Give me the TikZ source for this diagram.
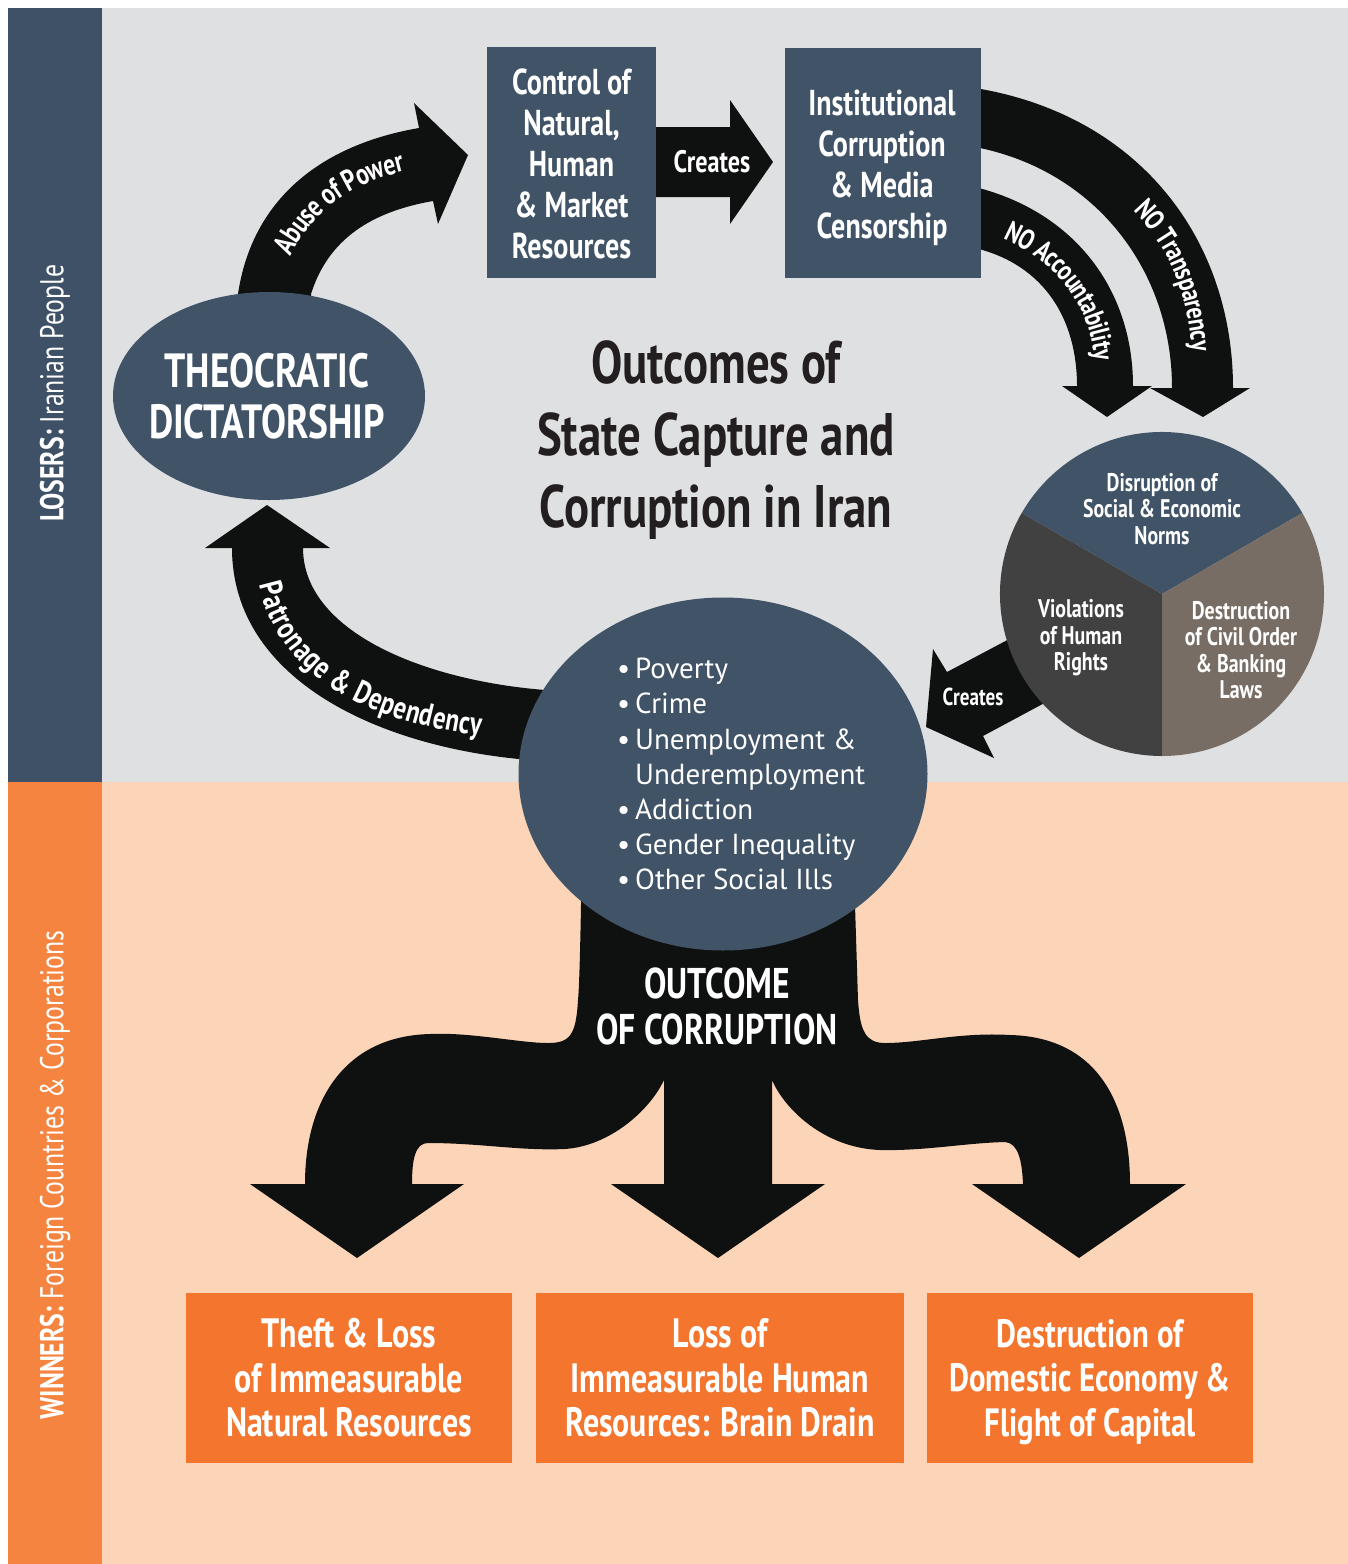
\documentclass[tikz,border=0pt]{standalone}
\usepackage{fontspec}
\setmainfont{PT Sans}
\newfontfamily\cond[FakeStretch=0.78]{PT Sans}
\usetikzlibrary{shapes.geometric,decorations.text}
\definecolor{slate}{HTML}{405367}
\definecolor{bandslate}{HTML}{3E5166}
\definecolor{graybg}{HTML}{DFE0E2}
\definecolor{peach}{HTML}{FCD4B7}
\definecolor{bandorange}{HTML}{F4843F}
\definecolor{boxorange}{HTML}{F3752E}
\definecolor{arrowblack}{HTML}{0F1110}
\definecolor{pieleft}{HTML}{414141}
\definecolor{pieright}{HTML}{776D64}
\definecolor{titlecol}{HTML}{231F20}
\newcommand\abusefont{\cond\bfseries\fontsize{30}{30}\selectfont\color{white}}
\newcommand\nofont{\cond\bfseries\fontsize{28.5}{28.5}\selectfont\color{white}}
\newcommand\patfont{\cond\bfseries\fontsize{32}{32}\selectfont\color{white}}
\newcommand\bul{\makebox[18pt][l]{\textbullet}}
\tikzset{
  bigarrow/.style={fill=arrowblack},
  slatebox/.style={rectangle, fill=slate, inner sep=0},
  boxtext/.style={text=white, inner sep=0, align=center,
    font=\cond\bfseries\fontsize{36}{41}\selectfont},
  outbox/.style={rectangle, fill=boxorange, inner sep=0, minimum height=170pt},
  outtext/.style={text=white, inner sep=0, align=center,
    font=\cond\bfseries\fontsize{41}{44.5}\selectfont},
  pietext/.style={text=white, align=center, inner sep=0,
    font=\cond\bfseries\fontsize{25.5}{26.5}\selectfont},
  sidelabel/.style={rotate=90, text=white, inner sep=0, font=\cond\fontsize{33}{33}\selectfont},
}
\begin{document}
\begin{tikzpicture}[x=1pt,y=-1pt]
\useasboundingbox (0,0) rectangle (1348,1564);
% backgrounds
\fill[white] (0,0) rectangle (1348,1564);
\fill[bandslate] (8,8) rectangle (102,782);
\fill[bandorange] (8,782) rectangle (102,1564);
\fill[graybg] (102,8) rectangle (1348,782);
\fill[peach] (102,782) rectangle (1348,1564);

% side labels
\node[sidelabel] (losers) at (55,393) {\bfseries LOSERS:\mdseries\ Iranian People};
\node[sidelabel] (winners) at (55,1175) {\bfseries WINNERS:\mdseries\ Foreign Countries \& Corporations};

% Abuse of Power arrow
\fill[bigarrow] (238,310) -- (238,294) .. controls (252,200) and (320,145) .. (419,128)
  -- (414,103) -- (468,155) -- (438,224) -- (433,201)
  .. controls (370,212) and (328,240) .. (311,294) -- (311,310) -- cycle;
\path[decorate, decoration={text along path, text align=center, raise=-10pt,
  text={|\abusefont|Abuse of Power}}] (276,266) .. controls (298,205) and (350,170) .. (418,158);

% Creates arrow (top)
\fill[bigarrow] (650,127) -- (730,127) -- (730,100) -- (773,162) -- (730,224) -- (730,197) -- (650,197) -- cycle;

% NO Transparency arrow
\fill[bigarrow] (975,88) .. controls (1140,115) and (1233,240) .. (1233,388)
  -- (1250,388) -- (1203,417) -- (1150,388) -- (1172,388)
  .. controls (1172,270) and (1095,170) .. (975,147) -- cycle;
\path[decorate, decoration={text along path, text align=center, raise=-10pt,
  text={|\nofont|NO Transparency}}] (1120,186) .. controls (1175,228) and (1203,292) .. (1203,378);

% NO Accountability arrow
\fill[bigarrow] (975,187) .. controls (1075,212) and (1133,290) .. (1133,386)
  -- (1152,386) -- (1107,417) -- (1062,386) -- (1077,386)
  .. controls (1077,320) and (1045,265) .. (975,248) -- cycle;
\path[decorate, decoration={text along path, text align=center, raise=-10pt,
  text={|\nofont|NO Accountability}}] (994,224) .. controls (1060,248) and (1105,300) .. (1105,374);

% Patronage arrow
\fill[bigarrow] (303,548) -- (330,548) -- (267,505) -- (205,548) -- (232,548)
  .. controls (232,680) and (380,748) .. (530,760) -- (560,760) -- (560,688) -- (545,690)
  .. controls (420,680) and (303,630) .. (303,548) -- cycle;
\path[decorate, decoration={text along path, text align=center, raise=-11pt,
  text={|\patfont|Patronage {\&} Dependency}}] (266,548) .. controls (268,662) and (365,717) .. (516,728);

% Creates arrow (lower)
\fill[bigarrow] (1030,628) -- (947,672) -- (933,649) -- (926,727) -- (994,758) -- (983,736) -- (1065,692) -- cycle;

% tree
\fill[bigarrow] (581,850) -- (581,905) .. controls (580,960) and (579,990) .. (578,1000)
  .. controls (576,1035) and (570,1043) .. (548,1043)
  .. controls (520,1043) and (470,1032) .. (430,1034)
  .. controls (345,1036) and (305,1100) .. (305,1184)
  -- (250,1184) -- (357,1258) -- (464,1184) -- (412,1184)
  .. controls (412,1160) and (415,1143) .. (428,1143)
  .. controls (480,1143) and (520,1151) .. (565,1149)
  .. controls (610,1146) and (650,1110) .. (664,1080)
  -- (664,1184) -- (611,1184) -- (718,1258) -- (825,1184) -- (772,1184) -- (772,1080)
  .. controls (785,1110) and (825,1148) .. (880,1150)
  .. controls (925,1151) and (965,1143) .. (1005,1142)
  .. controls (1018,1143) and (1022,1160) .. (1023,1184)
  -- (972,1184) -- (1079,1258) -- (1186,1184) -- (1130,1184)
  .. controls (1130,1100) and (1095,1037) .. (1010,1035)
  .. controls (960,1032) and (920,1043) .. (885,1043)
  .. controls (865,1043) and (860,1030) .. (858,1000)
  -- (855,905) -- (855,850) -- cycle;

% pie
\coordinate (pc) at (1162,594);
\fill[slate] (pc) -- ++(-30:162) arc[start angle=-30, end angle=-150, radius=162] -- cycle;
\fill[pieleft] (pc) -- ++(-150:162) arc[start angle=-150, end angle=-270, radius=162] -- cycle;
\fill[pieright] (pc) -- ++(90:162) arc[start angle=90, end angle=-30, radius=162] -- cycle;
\node[pietext] (disrupt) at (1162,509) {Disruption of\\Social \& Economic\\Norms};
\node[pietext] (viol) at (1081,638) {Violations\\of Human\\Rights};
\node[pietext] (destr) at (1241,650) {Destruction\\of Civil Order\\\& Banking\\Laws};

% boxes
\node[slatebox, minimum width=169pt, minimum height=231pt] (control) at (571.5,162.5) {};
\node[boxtext] (controltext) at (571.5,164) {Control of\\Natural,\\Human\\\& Market\\Resources};
\node[slatebox, minimum width=196pt, minimum height=230pt] (inst) at (883,163) {};
\node[boxtext] (insttext) at (882,168) {Institutional\\Corruption\\\& Media\\Censorship};
\node[text=white, inner sep=0, font=\cond\bfseries\fontsize{31}{31}\selectfont] (creates1) at (712,162) {Creates};
\node[text=white, inner sep=0, font=\cond\bfseries\fontsize{24.5}{24.5}\selectfont] (creates2) at (973,697) {Creates};

\node[ellipse, fill=slate, minimum width=312pt, minimum height=208pt, inner sep=0] (theo) at (269,396) {};
\node[text=white, align=center, inner sep=0, font=\cond\bfseries\fontsize{48}{51}\selectfont] (theotext) at (267,396) {THEOCRATIC\\DICTATORSHIP};

\node[text=titlecol, align=center, inner sep=0, font=\cond\bfseries\fontsize{60}{72}\selectfont] (title) at (716,440)
  {Outcomes of\\State Capture and\\Corruption in Iran};

\node[ellipse, fill=slate, minimum width=409pt, minimum height=353pt, inner sep=0] (ills) at (723,774) {};
\node[anchor=north west, align=left, inner sep=0, text=white, font=\fontsize{29}{35.2}\selectfont] (list) at (617,658)
  {\bul Poverty\\\bul Crime\\\bul Unemployment \&\\\hspace*{18pt}Underemployment\\\bul Addiction\\\bul Gender Inequality\\\bul Other Social Ills};

\node[text=white, align=center, inner sep=0, font=\cond\bfseries\fontsize{43}{46}\selectfont] (outcome) at (717,1006)
  {OUTCOME\\OF CORRUPTION};

\node[outbox, minimum width=326pt] (theft) at (349,1378) {};
\node[outtext] (thefttext) at (349,1378) {Theft \& Loss\\of Immeasurable\\Natural Resources};
\node[outbox, minimum width=368pt] (loss) at (720,1378) {};
\node[outtext] (losstext) at (720,1378) {Loss of\\Immeasurable Human\\Resources: Brain Drain};
\node[outbox, minimum width=326pt] (dest) at (1090,1378) {};
\node[outtext, font=\cond\bfseries\fontsize{39.5}{44.5}\selectfont] (desttext) at (1090,1382) {Destruction of\\Domestic Economy \&\\Flight of Capital};
\end{tikzpicture}
\end{document}
